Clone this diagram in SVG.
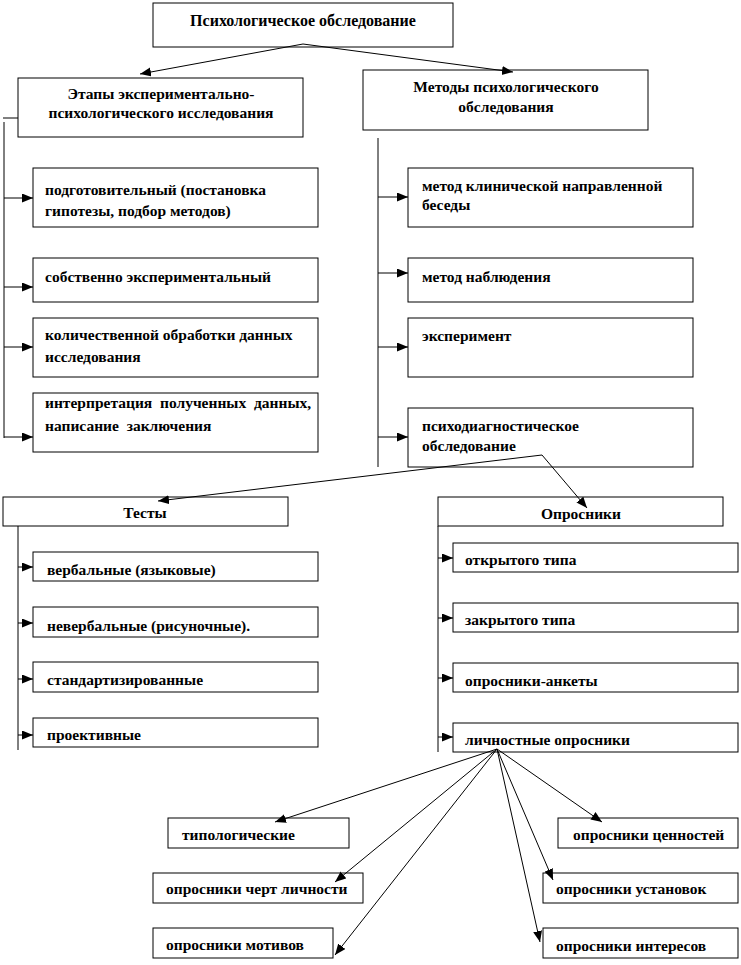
<svg xmlns="http://www.w3.org/2000/svg" width="741" height="965" viewBox="0 0 741 965">
<defs>
<style>
.box{fill:#fff;stroke:#000;stroke-width:1}
.t{font-family:"Liberation Serif","Times New Roman",serif;font-weight:bold;font-size:15.5px;fill:#000}
.c{text-anchor:middle}
.ln{stroke:#000;stroke-width:1;fill:none}
.ar{stroke:#000;stroke-width:1;fill:none;marker-end:url(#ah)}
</style>
<marker id="ah" markerUnits="userSpaceOnUse" markerWidth="12" markerHeight="10" refX="11" refY="4.5" orient="auto">
<path d="M0,0 L11,4.5 L0,9 Z" fill="#000"/>
</marker>
</defs>
<rect width="741" height="965" fill="#fff"/>

<g id="n-root"><rect class="box" x="153" y="3" width="300" height="44"/><text class="t c" x="303" y="26" style="font-size:16px">Психологическое обследование</text></g>
<g id="n-stages"><rect class="box" x="18" y="78" width="285" height="59"/><text class="t c" x="161" y="99">Этапы экспериментально-</text><text class="t c" x="161" y="118">психологического исследования</text></g>
<g id="n-methods"><rect class="box" x="363" y="70" width="285" height="60"/><text class="t c" x="506" y="92">Методы психологического</text><text class="t c" x="506" y="112">обследования</text></g>

<g id="n-s1"><rect class="box" x="33" y="168" width="285" height="59"/><text class="t" x="45" y="195">подготовительный (постановка</text><text class="t" x="45" y="216">гипотезы, подбор методов)</text></g>
<g id="n-s2"><rect class="box" x="33" y="258" width="285" height="44"/><text class="t" x="45" y="282">собственно экспериментальный</text></g>
<g id="n-s3"><rect class="box" x="33" y="318" width="285" height="59"/><text class="t" x="45" y="340">количественной обработки данных</text><text class="t" x="45" y="362">исследования</text></g>
<g id="n-s4"><rect class="box" x="33" y="393" width="285" height="59"/><text class="t" x="45" y="408" xml:space="preserve">интерпретация  полученных  данных,</text><text class="t" x="45" y="431" xml:space="preserve">написание  заключения</text></g>

<g id="n-m1"><rect class="box" x="408" y="168" width="285" height="59"/><text class="t" x="422" y="191">метод клинической направленной</text><text class="t" x="422" y="210">беседы</text></g>
<g id="n-m2"><rect class="box" x="408" y="258" width="285" height="44"/><text class="t" x="422" y="282">метод наблюдения</text></g>
<g id="n-m3"><rect class="box" x="408" y="318" width="285" height="59"/><text class="t" x="422" y="341">эксперимент</text></g>
<g id="n-m4"><rect class="box" x="408" y="408" width="285" height="59"/><text class="t" x="422" y="431">психодиагностическое</text><text class="t" x="422" y="451">обследование</text></g>

<g id="n-tests"><rect class="box" x="3" y="497" width="285" height="29"/><text class="t c" x="145" y="518">Тесты</text></g>
<g id="n-t1"><rect class="box" x="33" y="552" width="285" height="29"/><text class="t" x="47" y="575">вербальные (языковые)</text></g>
<g id="n-t2"><rect class="box" x="33" y="607" width="285" height="30"/><text class="t" x="47" y="631">невербальные (рисуночные).</text></g>
<g id="n-t3"><rect class="box" x="33" y="662" width="285" height="30"/><text class="t" x="47" y="685">стандартизированные</text></g>
<g id="n-t4"><rect class="box" x="33" y="718" width="285" height="29"/><text class="t" x="47" y="740">проективные</text></g>

<g id="n-quest"><rect class="box" x="438" y="497" width="285" height="29"/><text class="t c" x="581" y="519">Опросники</text></g>
<g id="n-q1"><rect class="box" x="453" y="543" width="285" height="29"/><text class="t" x="465" y="565">открытого типа</text></g>
<g id="n-q2"><rect class="box" x="453" y="603" width="285" height="29"/><text class="t" x="465" y="625">закрытого типа</text></g>
<g id="n-q3"><rect class="box" x="453" y="663" width="285" height="29"/><text class="t" x="465" y="686">опросники-анкеты</text></g>
<g id="n-q4"><rect class="box" x="453" y="723" width="285" height="29"/><text class="t" x="465" y="745">личностные опросники</text></g>

<g id="n-p1"><rect class="box" x="168" y="818" width="181" height="30"/><text class="t" x="182" y="840">типологические</text></g>
<g id="n-p2"><rect class="box" x="153" y="873" width="210" height="30"/><text class="t" x="166" y="894">опросники черт личности</text></g>
<g id="n-p3"><rect class="box" x="153" y="928" width="180" height="30"/><text class="t" x="166" y="950">опросники мотивов</text></g>
<g id="n-p4"><rect class="box" x="558" y="818" width="180" height="30"/><text class="t" x="573" y="840">опросники ценностей</text></g>
<g id="n-p5"><rect class="box" x="543" y="873" width="195" height="30"/><text class="t" x="556" y="894">опросники установок</text></g>
<g id="n-p6"><rect class="box" x="543" y="928" width="195" height="30"/><text class="t" x="556" y="951">опросники интересов</text></g>

<g id="connectors">
<line class="ar" x1="303" y1="44" x2="140" y2="74"/>
<line class="ar" x1="303" y1="44" x2="513" y2="72"/>
<line class="ln" x1="3" y1="118" x2="18" y2="118"/>
<line class="ln" x1="4" y1="122" x2="4" y2="438"/>
<line class="ar" x1="4" y1="198" x2="33" y2="198"/>
<line class="ar" x1="4" y1="287" x2="33" y2="287"/>
<line class="ar" x1="4" y1="347" x2="33" y2="347"/>
<line class="ar" x1="4" y1="437" x2="33" y2="437"/>
<line class="ln" x1="378" y1="138" x2="378" y2="467"/>
<line class="ar" x1="378" y1="197" x2="408" y2="197"/>
<line class="ar" x1="378" y1="273" x2="408" y2="273"/>
<line class="ar" x1="378" y1="347" x2="408" y2="347"/>
<line class="ar" x1="378" y1="437" x2="408" y2="437"/>
<line class="ar" x1="542" y1="455" x2="158" y2="501"/>
<line class="ar" x1="542" y1="455" x2="587" y2="508"/>
<line class="ln" x1="18" y1="526" x2="18" y2="750"/>
<line class="ar" x1="18" y1="567" x2="33" y2="567"/>
<line class="ar" x1="18" y1="623" x2="33" y2="623"/>
<line class="ar" x1="18" y1="679" x2="33" y2="679"/>
<line class="ar" x1="18" y1="735" x2="33" y2="735"/>
<line class="ln" x1="438" y1="526" x2="438" y2="752"/>
<line class="ar" x1="438" y1="558" x2="453" y2="558"/>
<line class="ar" x1="438" y1="618" x2="453" y2="618"/>
<line class="ar" x1="438" y1="678" x2="453" y2="678"/>
<line class="ar" x1="438" y1="737" x2="453" y2="737"/>
<line class="ar" x1="497" y1="749" x2="275" y2="822"/>
<line class="ar" x1="497" y1="749" x2="335" y2="882"/>
<line class="ar" x1="497" y1="749" x2="335" y2="955"/>
<line class="ar" x1="497" y1="749" x2="602" y2="822"/>
<line class="ar" x1="497" y1="749" x2="553" y2="880"/>
<line class="ar" x1="497" y1="749" x2="540" y2="942"/>
</g>
</svg>
